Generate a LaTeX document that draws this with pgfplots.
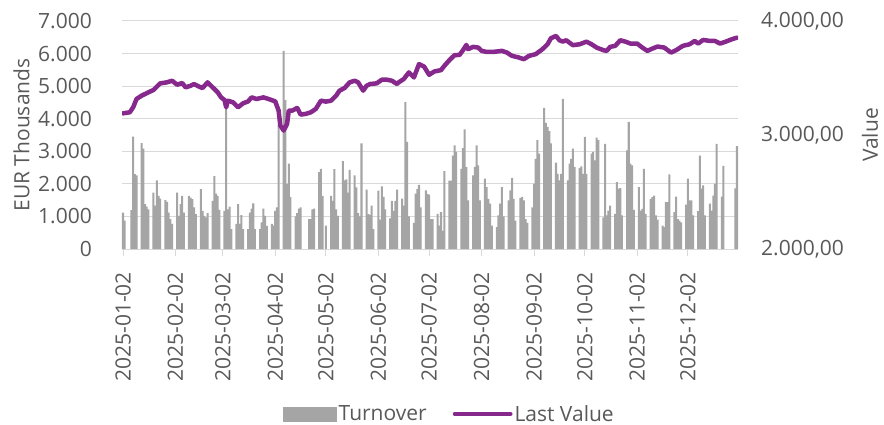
\documentclass[border=0pt]{standalone}
\usepackage{fontspec}
\setmainfont{Open Sans}
\usepackage{pgfplots}
\pgfplotsset{compat=1.18}
\definecolor{bargray}{RGB}{165,165,165}
\definecolor{linepurple}{RGB}{134,40,140}
\definecolor{txtgray}{RGB}{89,89,89}
\definecolor{gridgray}{RGB}{217,217,217}
\newcommand{\fz}{\fontsize{21bp}{25bp}\selectfont}

\pgfplotstableread{
d v
0 1120
1 870
5 1190
6 3450
7 2300
8 2260
11 3250
12 3080
13 1380
14 1300
15 1220
18 1730
19 1330
20 2110
21 1630
22 1550
25 1500
26 1450
27 1120
28 920
29 770
32 1730
33 1020
34 1380
35 1630
36 1120
39 1630
40 1580
41 1530
42 1280
43 1070
46 1840
47 1170
48 1020
49 970
50 1100
53 1480
54 2240
55 1700
56 1630
57 1200
60 1170
61 4360
62 1220
63 1300
64 610
67 770
68 1380
69 770
70 1040
71 610
74 610
75 1120
76 1240
77 1400
78 610
81 610
82 820
83 1240
84 1020
85 710
88 770
89 720
90 1170
91 1280
92 3800
95 6080
96 4570
97 2000
98 2620
99 1590
102 1000
103 1100
104 1240
105 1280
110 920
111 920
112 1220
113 1240
116 2360
117 2460
118 1630
120 720
123 1630
124 1480
125 2450
126 1220
127 1020
130 2700
131 2110
132 2140
133 1730
134 2430
137 2260
138 1890
139 1100
140 1000
141 3240
144 1820
145 1070
146 1050
147 1330
148 610
151 1790
152 900
153 1920
154 1600
155 1220
158 940
159 1480
160 1170
161 1480
162 1820
165 1550
166 1330
167 4510
168 3290
169 1000
172 800
173 1700
174 1840
175 1970
176 1280
179 1800
180 1690
181 1670
182 920
183 920
186 1080
187 720
188 1130
189 560
190 2390
193 2100
194 2100
195 2870
196 3180
197 2980
200 2460
201 3100
202 3670
203 2510
204 1490
207 2260
208 2520
209 3180
210 2570
211 1490
214 2160
215 1900
216 1540
217 1390
218 720
221 670
222 1030
223 1390
224 1900
225 1000
228 1490
229 1800
230 2180
231 1540
232 870
235 1570
236 1600
237 1490
238 920
239 800
242 1280
243 2000
244 2770
245 3340
246 2930
249 4330
250 3870
251 3750
252 3620
253 3240
256 2650
257 2310
258 2110
259 2310
260 4610
263 2110
264 2620
265 2770
266 3080
267 2520
270 2490
271 2540
272 2310
273 3440
274 2310
277 2930
278 2980
279 2720
280 3420
281 3340
284 970
285 3230
286 1030
287 1180
288 1330
291 1080
292 2050
293 1850
294 1870
295 1030
298 3030
299 3900
300 2620
301 2570
302 1200
305 1900
306 1180
307 1230
308 2460
309 1080
312 1540
313 1590
314 1640
315 1030
316 900
319 720
320 670
321 1440
322 1440
323 2290
326 1130
327 1610
328 920
329 870
330 820
333 1360
334 2160
335 1490
336 1490
337 1030
340 1160
341 2870
342 1850
343 1950
344 1030
347 1390
348 1180
349 1640
350 2000
351 3230
354 1610
355 2550
362 1860
363 3160
}\turnover

\pgfplotstableread{
d v
0 3190
4 3199
6 3243
8 3316
11 3345
15 3374
18 3395
22 3453
26 3462
29 3476
32 3441
35 3456
37 3418
40 3432
42 3447
45 3424
47 3412
50 3462
53 3418
56 3374
58 3330
60 3307
61 3243
62 3301
65 3287
68 3243
71 3278
74 3295
76 3330
79 3316
83 3330
86 3316
90 3295
92 3214
93 3083
95 3039
97 3098
98 3214
100 3214
103 3237
105 3179
108 3185
111 3199
114 3229
117 3301
120 3293
123 3301
126 3345
128 3389
131 3412
134 3462
137 3476
139 3462
142 3389
144 3432
146 3447
150 3453
153 3485
156 3485
159 3476
162 3447
163 3462
166 3491
169 3549
172 3505
175 3622
178 3600
181 3528
184 3557
188 3569
190 3607
193 3657
196 3700
199 3703
201 3744
203 3790
204 3753
207 3773
210 3767
212 3738
215 3729
219 3729
224 3738
227 3723
230 3694
234 3680
237 3665
240 3694
244 3709
248 3753
251 3796
253 3849
256 3869
258 3831
260 3819
262 3831
266 3788
270 3796
274 3819
277 3796
280 3767
284 3744
286 3738
288 3773
291 3782
294 3831
297 3819
300 3802
304 3802
307 3767
310 3738
313 3758
316 3776
320 3767
324 3723
327 3744
331 3782
335 3796
338 3825
340 3802
343 3834
347 3825
350 3825
353 3802
356 3817
360 3840
363 3854
}\lastvalue

\begin{document}
\begin{tikzpicture}[font=\fz]
\path[use as bounding box] (-122bp,-176bp) rectangle (762bp,249bp);
\begin{axis}[
  at={(0,0)}, anchor=south west,
  scale only axis, width=616bp, height=228bp,
  xmin=-0.6, xmax=363.6, ymin=0, ymax=7000,
  ytick={0,1000,...,7000},
  xtick={0,31,59,90,120,151,181,212,243,273,304,334},
  xticklabels={2025-01-02,2025-02-02,2025-03-02,2025-04-02,2025-05-02,2025-06-02,2025-07-02,2025-08-02,2025-09-02,2025-10-02,2025-11-02,2025-12-02},
  axis x line*=bottom, axis y line*=left,
  x axis line style={draw=gridgray, line width=1bp, -},
  y axis line style={draw=none},
  ymajorgrids, grid style={draw=gridgray, line width=1bp},
  tick align=outside,
  xtick style={draw=gridgray, line width=1bp},
  major tick length=7bp,
  ytick style={draw=none},
  xticklabel style={rotate=90, anchor=east, inner sep=0pt, font=\fz, text=txtgray},
  xticklabel shift=16bp,
  yticklabel style={anchor=east, inner sep=0pt, font=\fz, text=txtgray},
  yticklabel shift=23bp,
  /pgf/number format/.cd, fixed, precision=0, 1000 sep={.}, assume math mode=true,
  /pgfplots/.cd,
  ylabel={EUR Thousands},
  ylabel style={at={(axis description cs:-0.163,0.5)}, anchor=center, font=\fz, text=txtgray},
]
\addplot[ybar, bar width=1.2, fill=bargray, draw=none] table[x=d, y=v] {\turnover};
\end{axis}
\begin{axis}[
  at={(0,0)}, anchor=south west,
  scale only axis, width=616bp, height=228bp,
  xmin=-0.6, xmax=363.6, ymin=2000, ymax=4000,
  ytick={2000,3000,4000},
  axis x line=none, axis y line*=right,
  y axis line style={draw=none},
  ytick style={draw=none},
  yticklabel style={anchor=west, inner sep=0pt, font=\fz, text=txtgray},
  yticklabel shift=23bp,
  /pgf/number format/.cd, fixed, fixed zerofill, precision=2, use comma, 1000 sep={.}, assume math mode=true,
  /pgfplots/.cd,
  ylabel={Value},
  ylabel style={at={(axis description cs:1.2143,0.5)}, anchor=center, font=\fz, text=txtgray},
  legend style={at={(axis description cs:0.5317,-0.7236)}, anchor=center, draw=none, fill=none,
    font=\fz, text=txtgray, inner sep=0pt, legend columns=-1,
    nodes={inner sep=2bp},
    /tikz/every even column/.append style={column sep=24bp}},
]
\addlegendimage{legend image code/.code={\fill[bargray] (0bp,-7bp) rectangle (53bp,7bp);}}
\addlegendentry{Turnover}
\addplot[linepurple, line width=4.5bp, line join=round, line cap=round,
  legend image code/.code={\draw[linepurple, line width=3.8bp, line cap=round] (0bp,0bp) -- (56bp,0bp);}]
  table[x=d, y=v] {\lastvalue};
\addlegendentry{Last Value}
\end{axis}
\end{tikzpicture}
\end{document}
